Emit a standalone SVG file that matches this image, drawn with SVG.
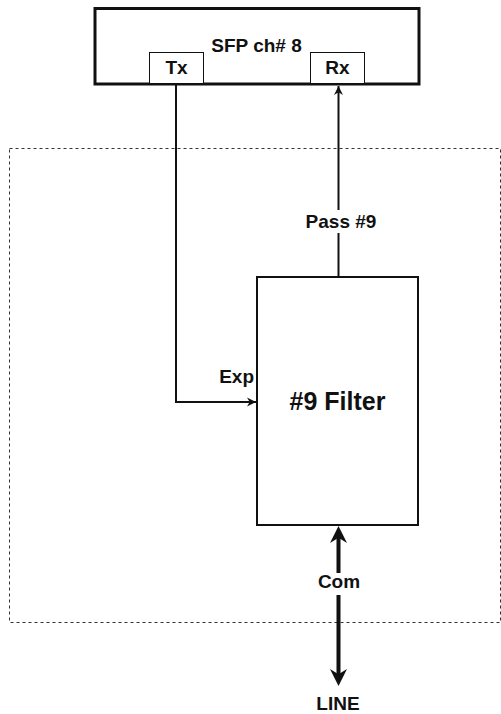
<svg xmlns="http://www.w3.org/2000/svg" width="501" height="714" viewBox="0 0 501 714">
<style>
  text { font-family: "Liberation Sans", Arial, sans-serif; font-weight: bold; fill: #111; }
  .lbl { font-size: 19px; }
  .big { font-size: 25px; }
  .box { fill: #fff; stroke: #111; }
  .conn { fill: none; stroke: #111; }
</style>
<defs>
  <marker id="arr" viewBox="0 0 10 10" markerUnits="userSpaceOnUse" markerWidth="9" markerHeight="10" refX="10" refY="5" orient="auto-start-reverse">
    <path d="M0,0 L10,5 L0,10 L3,5 Z" fill="#111"/>
  </marker>
  <marker id="arrBig" viewBox="0 0 10 10" markerUnits="userSpaceOnUse" markerWidth="19" markerHeight="17" refX="7" refY="5" orient="auto-start-reverse">
    <path d="M0,0 L10,5 L0,10 L3,5 Z" fill="#111"/>
  </marker>
</defs>
<rect x="9.5" y="148.5" width="491" height="474" fill="none" stroke="#333" stroke-width="1" stroke-dasharray="3 3"/>
<g id="sfp">
  <rect class="box" x="95" y="8.5" width="324" height="75.5" stroke-width="3"/>
  <text class="lbl" x="256.5" y="52" text-anchor="middle">SFP ch# 8</text>
</g>
<g id="tx">
  <rect class="box" x="149.5" y="52.5" width="54" height="31" stroke-width="1"/>
  <text class="lbl" x="176.5" y="74" text-anchor="middle">Tx</text>
</g>
<g id="rx">
  <rect class="box" x="310.5" y="52.5" width="54" height="31" stroke-width="1"/>
  <text class="lbl" x="337.5" y="74" text-anchor="middle">Rx</text>
</g>
<g id="filter">
  <rect class="box" x="257" y="277" width="161" height="248" stroke-width="2"/>
  <text class="big" x="337.5" y="410" text-anchor="middle">#9 Filter</text>
</g>
<g id="connectors">
  <path class="conn" stroke-width="2" d="M176,85 V402 H256" marker-end="url(#arr)"/>
  <text class="lbl" x="254" y="383" text-anchor="end">Exp</text>
  <path class="conn" stroke-width="2" d="M338.5,276 V86" marker-end="url(#arr)"/>
  <rect x="304" y="210" width="74" height="23" fill="#fff"/>
  <text class="lbl" x="341" y="228" text-anchor="middle">Pass #9</text>
  <path class="conn" stroke-width="4" d="M338.5,531 V681" marker-start="url(#arrBig)" marker-end="url(#arrBig)"/>
  <rect x="318" y="573" width="42" height="22" fill="#fff"/>
  <text class="lbl" x="339" y="588" text-anchor="middle">Com</text>
  <text class="lbl" x="338" y="710" text-anchor="middle">LINE</text>
</g>
</svg>
